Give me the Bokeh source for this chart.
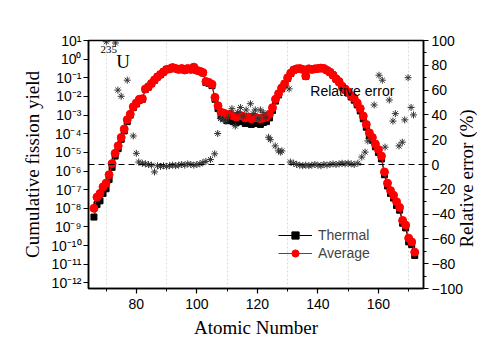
import math
from bokeh.plotting import figure
from bokeh.models import (Range1d, LinearAxis, LinearScale, Span, Label, Legend, LegendItem,
                          FixedTicker, SingleIntervalTicker, CustomJSTickFormatter)
from bokeh.embed import file_html
from bokeh.resources import INLINE

# ---------------- data ----------------
z = list(range(66, 173))

average_log10 = [
    -8.0, -7.4, -7.2, -6.85, -6.65, -6.2, -5.6, -5.05, -4.65, -4.2,
    -3.75, -3.25, -2.95, -2.55, -2.35, -2.15, -2.12, -1.6, -1.48, -1.3,
    -1.12, -0.95, -0.82, -0.68, -0.55, -0.52, -0.45, -0.5, -0.55, -0.5,
    -0.58, -0.5, -0.55, -0.43, -0.6, -0.65, -0.72, -1.2, -1.25, -1.35,
    -2.05, -2.5, -2.85, -2.9, -3.0, -2.95, -3.05, -3.1, -3.0, -3.05,
    -3.15, -3.1, -3.2, -3.1, -3.15, -3.2, -3.15, -3.1, -2.95, -2.6,
    -2.15, -1.85, -1.55, -1.32, -1.0, -0.75, -0.58, -0.52, -0.5, -0.55,
    -0.9, -0.52, -0.55, -0.52, -0.5, -0.48, -0.5, -0.6, -0.7, -0.85,
    -1.05, -1.2, -1.45, -1.6, -1.75, -1.95, -2.1, -2.35, -2.65, -3.05,
    -3.5, -3.95, -4.2, -4.55, -4.85, -5.2, -6.05, -6.65, -7.05, -7.3,
    -7.65, -7.95, -8.65, -8.9, -9.6, -9.8, -10.35,
]

thermal_log10 = [
    -8.47, -7.8, -7.6, -7.2, -6.95, -6.45, -5.8, -5.2, -4.8, -4.3,
    -3.85, -3.35, -3.0, -2.6, -2.4, -2.2, -2.15, -1.62, -1.5, -1.32,
    -1.13, -0.96, -0.83, -0.69, -0.56, -0.53, -0.46, -0.51, -0.56, -0.51,
    -0.59, -0.51, -0.56, -0.44, -0.61, -0.66, -0.74, -1.25, -1.3, -1.42,
    -2.15, -2.65, -3.05, -3.15, -3.3, -3.2, -3.35, -3.4, -3.3, -3.35,
    -3.45, -3.4, -3.5, -3.4, -3.45, -3.5, -3.4, -3.35, -3.15, -2.75,
    -2.25, -1.92, -1.6, -1.36, -1.03, -0.77, -0.59, -0.53, -0.51, -0.56,
    -0.92, -0.53, -0.56, -0.53, -0.51, -0.49, -0.51, -0.61, -0.71, -0.86,
    -1.07, -1.23, -1.5, -1.66, -1.82, -2.03, -2.2, -2.45, -2.78, -3.2,
    -3.65, -4.1, -4.35, -4.7, -5.0, -5.35, -6.2, -6.8, -7.2, -7.45,
    -7.85, -8.1, -8.8, -9.05, -9.8, -9.95, -10.53,
]

err_z = [
    70.1, 73.1, 73.9, 75.0, 77.0, 79.0, 80.0, 80.8,
    82, 83, 84, 85, 86, 87, 88, 89, 90, 91, 92, 93, 94, 95, 96, 97, 98, 99, 100, 101,
    102, 103, 104.5, 105.9, 106.9,
    107.8, 108.7, 109.6, 110.5, 111.6, 112.7, 113.5, 114.4, 115.3, 116.3, 117.7,
    118.6, 119.3, 120.3, 121.0, 121.9, 122.8, 123.7, 124.3, 125.9, 127.0, 127.6,
    128.1, 130.5, 130.9,
    132, 133, 134, 135, 136, 137, 138, 139, 140, 141, 142, 143, 144, 145, 146,
    147, 148, 149, 150, 151, 152,
    153.2, 154.5, 155.6, 156.5, 158.6, 160.2, 161.3, 162.2, 163.6, 164.8, 165.6,
    166.8, 167.9, 168.7, 169.8, 170.8, 171.6,
]

err_val = [
    99, 98, 60, 55, 68, 23, 9, 2,
    1, 0.5, 0, -0.5, -6, -1, -1.5, -1, -1.5, -1, -0.5, -1, -0.5, 0, -0.5, 0.5, 0, -0.5, 0, 0.5,
    1.5, 2.5, 4, 8.6, 25,
    37, 36, 35, 38, 45, 31, 42, 46, 39, 44, 49,
    41, 44, 37, 44, 42, 38, 22, 20, 15, 11, 10,
    11, 61, 2,
    1, 0, -0.5, -1, -0.5, -1, -0.5, 0, -0.5, -1, 0, -0.5, 0, 0.5, 0,
    0.5, 1, 0.5, 1, 0.5, 0,
    1, 6, 10, 19, 48, 72, 68, 14, 52, 35, 41,
    15, 18, 36, 70, 46, 40,
]

decades = list(range(-12, 2))
grid_x = [70, 90, 110, 130, 150, 170]
right_title = "Relative error (%)"
right_title_at = [-67]

average = [10.0 ** v for v in average_log10]
thermal = [10.0 ** v for v in thermal_log10]

# ---------------- figure ----------------
SANS = "Liberation Sans"
SERIF = "Liberation Serif"

p = figure(frame_width=335, frame_height=248, output_backend="svg", toolbar_location=None,
           y_axis_type="log",
           x_range=Range1d(64.2, 174.9), y_range=Range1d(10 ** -12.3, 10 ** 1.0),
           min_border_left=88, min_border_right=68, min_border_top=40, min_border_bottom=59)
p.extra_y_ranges = {"err": Range1d(-100, 100)}
p.extra_y_scales = {"err": LinearScale()}

p.background_fill_color = "white"
p.border_fill_color = "white"
p.outline_line_color = "black"
p.outline_line_width = 1.5

p.ygrid.visible = False
p.xgrid.ticker = FixedTicker(ticks=grid_x)
p.xgrid.grid_line_color = "#dcdcdc"
p.xgrid.grid_line_dash = "2 2"
p.xgrid.grid_line_width = 1

sup_code = """
const sup = {'0':'\\u2070','1':'\\u00b9','2':'\\u00b2','3':'\\u00b3','4':'\\u2074',
             '5':'\\u2075','6':'\\u2076','7':'\\u2077','8':'\\u2078','9':'\\u2079','-':'\\u207b'};
const e = Math.round(Math.log10(tick));
return '10' + String(e).split('').map(c => sup[c]).join('');
"""

ya = p.yaxis[0]
ya.ticker = FixedTicker(ticks=[10.0 ** e for e in decades])
ya.formatter = CustomJSTickFormatter(code=sup_code)
ya.axis_label = "Cumulative fission yield"

xa = p.xaxis[0]
xa.ticker = SingleIntervalTicker(interval=20, num_minor_ticks=2)
xa.axis_label = "Atomic Number"

ra = LinearAxis(y_range_name="err",
                ticker=SingleIntervalTicker(interval=20, num_minor_ticks=2))
p.add_layout(ra, "right")

for ax in (xa, ya, ra):
    ax.axis_line_color = "black"
    ax.axis_line_width = 1.5
    ax.major_tick_line_color = "black"
    ax.minor_tick_line_color = "black"
    ax.major_tick_line_width = 1.2
    ax.major_tick_in = 0
    ax.major_tick_out = 5
    ax.minor_tick_in = 0
    ax.minor_tick_out = 3
    ax.major_label_text_font = SANS
    ax.major_label_text_font_size = "14px"
    ax.major_label_text_color = "black"
    ax.axis_label_text_font = SERIF
    ax.axis_label_text_font_size = "19px"
    ax.axis_label_text_font_style = "normal"
    ax.axis_label_text_color = "black"
ya.minor_tick_out = 0
ya.major_label_standoff = 2
ra.major_label_standoff = 3

# right-hand title, reading bottom-to-top (drawn as the single label of a bare axis)
ta = LinearAxis(y_range_name="err", ticker=FixedTicker(ticks=right_title_at),
                formatter=CustomJSTickFormatter(code="return %r;" % right_title))
ta.axis_line_color = None
ta.major_tick_line_color = None
ta.minor_tick_line_color = None
ta.major_tick_out = 0
ta.major_label_standoff = 0
ta.major_label_orientation = math.pi / 2
ta.major_label_text_font = SERIF
ta.major_label_text_font_size = "19px"
ta.major_label_text_color = "black"
p.add_layout(ta, "right")

# dashed zero line on the error axis
p.add_layout(Span(location=0, dimension="width", y_range_name="err",
                  line_color="black", line_dash="6 4", line_width=1))

# series
r_tl = p.line(z, thermal, line_color="black", line_width=1)
r_ts = p.scatter(z, thermal, marker="square", size=6, fill_color="black", line_color="black")
r_al = p.line(z, average, line_color="red", line_width=1)
r_as = p.scatter(z, average, marker="circle", size=8, fill_color="red", line_color="red")
p.scatter(err_z, err_val, marker="asterisk", size=7, line_color="#333333",
          line_width=1, y_range_name="err")

# annotations
p.add_layout(Label(x=68.2, y=3.3, text="235", text_font=SERIF, text_font_size="11px",
                   text_baseline="alphabetic", text_color="black"))
p.add_layout(Label(x=73.4, y=0.74, text="U", text_font=SERIF, text_font_size="19px",
                   text_baseline="alphabetic", text_color="black"))
p.add_layout(Label(x=137.5, y=59, y_range_name="err", text="Relative error",
                   text_font=SANS, text_font_size="14px", text_baseline="alphabetic",
                   text_color="black"))

legend = Legend(items=[LegendItem(label="Thermal", renderers=[r_tl, r_ts]),
                       LegendItem(label="Average", renderers=[r_al, r_as])],
                location=(190, 26))
legend.label_text_font = SANS
legend.label_text_font_size = "14px"
legend.glyph_width = 34
legend.glyph_height = 18
legend.label_height = 18
legend.spacing = 0
legend.padding = 0
legend.margin = 0
legend.label_standoff = 6
legend.border_line_alpha = 0
legend.background_fill_alpha = 0
p.add_layout(legend)

open("out.html", "w").write(file_html(p, INLINE))
